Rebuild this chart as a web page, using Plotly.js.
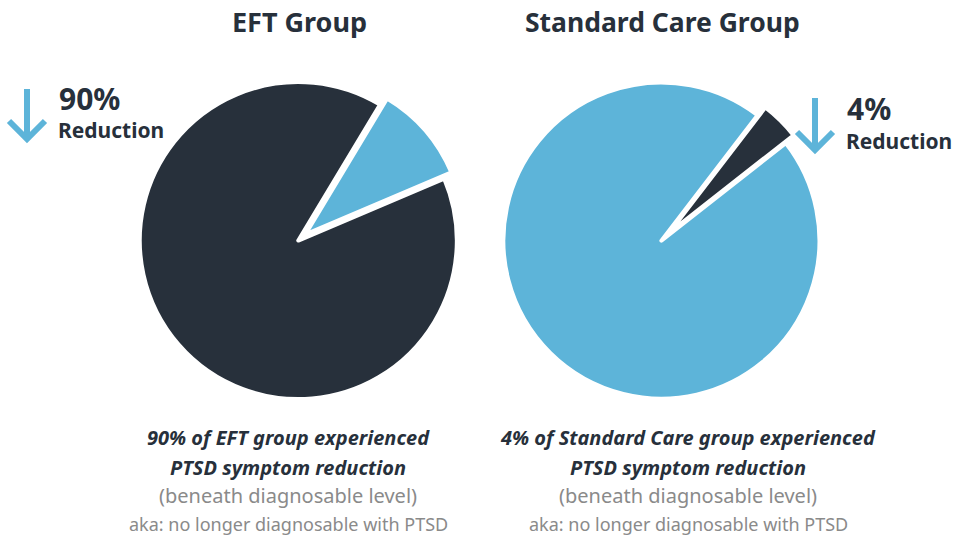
<!DOCTYPE html>
<html>
<head>
<meta charset="utf-8">
<script src="https://cdn.plot.ly/plotly-3.0.1.min.js"></script>
<style>html,body{margin:0;padding:0;background:#fff;}#chart{width:954px;height:537px;}</style>
</head>
<body>
<div id="chart"></div>
<script>
// Data
const groups = ["EFT Group", "Standard Care Group"];
const eftLabels = ["Reduction", "No reduction"];
const eftValues = [10, 90];
const stdLabels = ["Reduction", "No reduction"];
const stdValues = [4, 96];
const headlineValues = ["90%", "4%"];
const captionLine1 = ["90% of EFT group experienced", "4% of Standard Care group experienced"];
const captionLine2 = ["PTSD symptom reduction", "PTSD symptom reduction"];
const captionLine3 = ["(beneath diagnosable level)", "(beneath diagnosable level)"];
const captionLine4 = ["aka: no longer diagnosable with PTSD", "aka: no longer diagnosable with PTSD"];

const DARK = "#27303b";
const BLUE = "#5db4d9";
const GRAY = "#8a8a8a";
const W = 954, H = 537;
const px = x => x / W;
const py = y => 1 - y / H;

const traces = [
  {
    type: "pie", labels: eftLabels, values: eftValues, sort: false,
    direction: "clockwise", rotation: 31,
    marker: {colors: [BLUE, DARK], line: {color: "#ffffff", width: 4}},
    pull: [0.05, 0.01], textinfo: "none", hoverinfo: "label+value",
    domain: {x: [px(133.05), px(465.95)], y: [py(405.95), py(73.05)]}
  },
  {
    type: "pie", labels: stdLabels, values: stdValues, sort: false,
    direction: "clockwise", rotation: 37.5,
    marker: {colors: [DARK, BLUE], line: {color: "#ffffff", width: 4}},
    pull: [0.06, 0.01], textinfo: "none", hoverinfo: "label+value",
    domain: {x: [px(495), px(830)], y: [py(407), py(72)]}
  }
];

const FONT = "Noto Sans, Open Sans, sans-serif";
function ann(text, x, y, size, color, opts) {
  return Object.assign({
    text: text, x: px(x), y: py(y), xref: "paper", yref: "paper",
    showarrow: false, xanchor: "center", yanchor: "middle",
    font: {family: FONT, size: size, color: color}
  }, opts || {});
}

const annotations = [
  ann("<b>" + groups[0] + "</b>", 299, 22, 27, DARK),
  ann("<b>" + groups[1] + "</b>", 662, 22, 26.5, DARK),
  ann("<b>" + headlineValues[0] + "</b>", 57, 98, 30, DARK, {xanchor: "left"}),
  ann("<b>Reduction</b>", 56, 130, 21, DARK, {xanchor: "left"}),
  ann("<b>" + headlineValues[1] + "</b>", 845, 108, 30, DARK, {xanchor: "left"}),
  ann("<b>Reduction</b>", 844, 141, 21, DARK, {xanchor: "left"}),
  ann("<b><i>" + captionLine1[0] + "</i></b>", 288, 437, 20, DARK),
  ann("<b><i>" + captionLine2[0] + "</i></b>", 288, 467, 20, DARK),
  ann(captionLine3[0], 288, 495, 20, GRAY),
  ann(captionLine4[0], 288, 524, 18, GRAY),
  ann("<b><i>" + captionLine1[1] + "</i></b>", 688, 437, 20, DARK),
  ann("<b><i>" + captionLine2[1] + "</i></b>", 688, 467, 20, DARK),
  ann(captionLine3[1], 688, 495, 20, GRAY),
  ann(captionLine4[1], 688, 524, 18, GRAY)
];

function arrowShapes(x, y1, y2) {
  const d = 18;
  return [
    {type: "line", xref: "paper", yref: "paper", x0: px(x), x1: px(x), y0: py(y1), y1: py(y2 - 2),
     line: {color: BLUE, width: 6}},
    {type: "path", xref: "paper", yref: "paper",
     path: "M " + px(x - d) + "," + py(y2 - d) + " L " + px(x) + "," + py(y2) + " L " + px(x + d) + "," + py(y2 - d),
     line: {color: BLUE, width: 6}}
  ];
}

const layout = {
  width: W, height: H,
  margin: {l: 0, r: 0, t: 0, b: 0},
  paper_bgcolor: "#ffffff",
  showlegend: false,
  annotations: annotations,
  shapes: arrowShapes(27, 89, 139).concat(arrowShapes(815, 98, 150))
};

Plotly.newPlot("chart", traces, layout, {displayModeBar: false, staticPlot: true});
</script>
</body>
</html>
